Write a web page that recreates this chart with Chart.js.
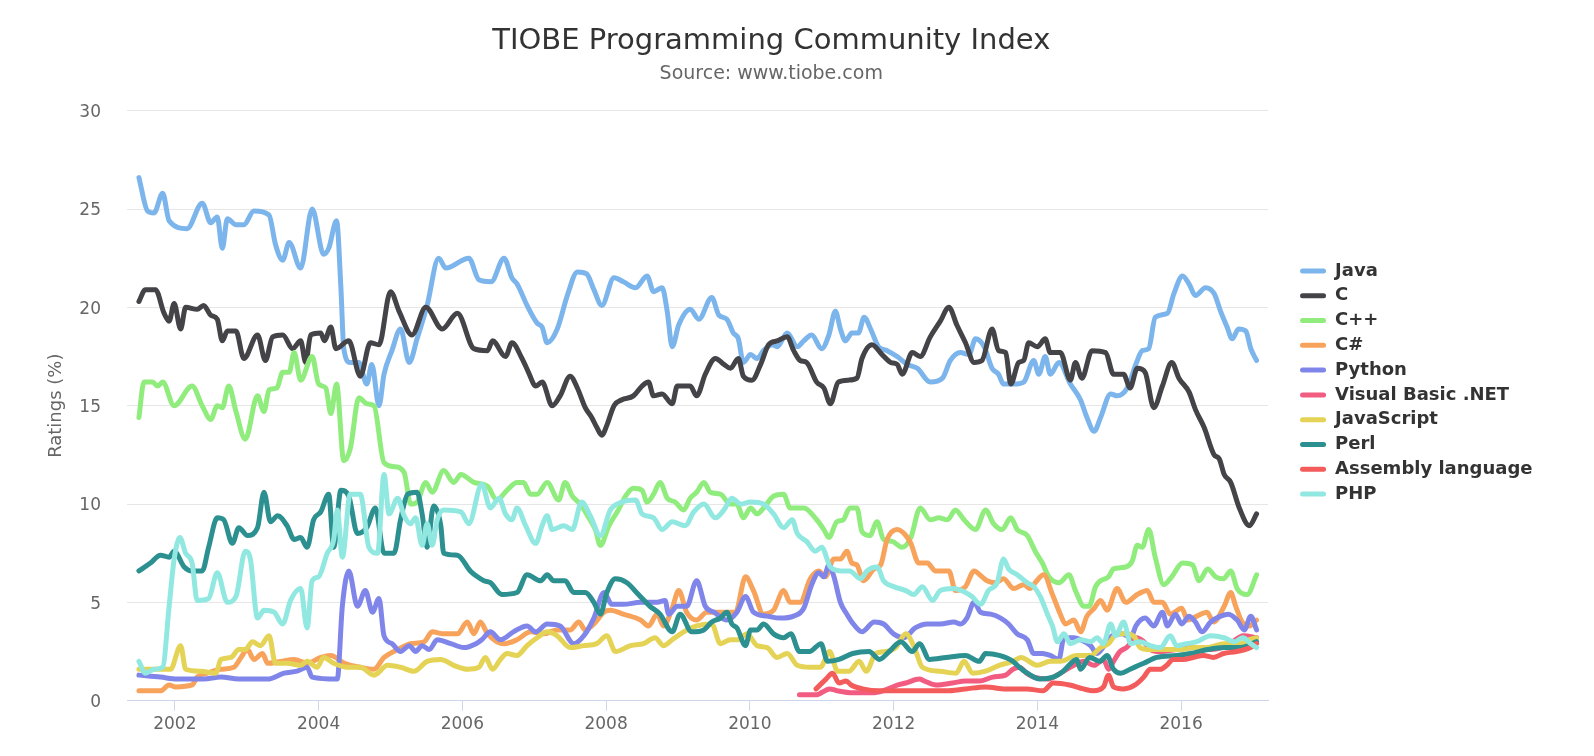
<!DOCTYPE html>
<html>
<head>
<meta charset="utf-8">
<title>TIOBE Programming Community Index</title>
<script src="https://cdn.jsdelivr.net/npm/chart.js@4/dist/chart.umd.min.js"></script>
<style>
  html, body { margin: 0; padding: 0; background: #fff; }
  canvas { display: block; }
</style>
</head>
<body>
<canvas id="chart" width="1594" height="756"></canvas>
<script>
// [year, rating %]
const java = [
  [2001.50, 26.6], [2001.62, 24.9], [2001.71, 24.8], [2001.83, 25.8], [2001.92, 24.4], [2002.17, 24.0],
  [2002.38, 25.3], [2002.50, 24.3], [2002.59, 24.6], [2002.66, 23.0], [2002.73, 24.5], [2002.85, 24.2],
  [2002.96, 24.2], [2003.10, 24.9], [2003.31, 24.7], [2003.40, 23.2], [2003.50, 22.4], [2003.59, 23.3],
  [2003.75, 22.0], [2003.91, 25.0], [2004.07, 22.7], [2004.14, 23.0], [2004.25, 24.4], [2004.31, 21.0],
  [2004.35, 17.9], [2004.44, 17.2], [2004.56, 17.2], [2004.67, 16.1], [2004.74, 17.1], [2004.84, 15.0],
  [2004.91, 16.6], [2005.02, 17.8], [2005.14, 18.9], [2005.26, 17.2], [2005.37, 18.4], [2005.51, 20.1],
  [2005.67, 22.5], [2005.77, 22.0], [2006.09, 22.5], [2006.23, 21.4], [2006.40, 21.3], [2006.58, 22.5],
  [2006.69, 21.5], [2006.76, 21.2], [2006.90, 20.1], [2007.04, 19.2], [2007.11, 19.0], [2007.18, 18.2],
  [2007.32, 18.9], [2007.46, 20.6], [2007.60, 21.8], [2007.73, 21.7], [2007.83, 20.9], [2007.94, 20.1],
  [2008.11, 21.5], [2008.24, 21.3], [2008.41, 21.0], [2008.57, 21.6], [2008.66, 20.8], [2008.78, 21.0],
  [2008.85, 19.8], [2008.92, 18.0], [2009.01, 19.1], [2009.17, 19.9], [2009.29, 19.4], [2009.47, 20.5],
  [2009.57, 19.6], [2009.68, 19.4], [2009.77, 18.7], [2009.84, 18.4], [2009.91, 17.2], [2010.01, 17.6],
  [2010.10, 17.4], [2010.19, 17.8], [2010.31, 18.1], [2010.38, 18.0], [2010.52, 18.7], [2010.66, 18.0],
  [2010.75, 18.3], [2010.86, 18.6], [2011.00, 17.9], [2011.10, 18.6], [2011.19, 19.8], [2011.26, 18.9],
  [2011.33, 18.3], [2011.42, 18.7], [2011.51, 18.7], [2011.59, 19.5], [2011.68, 18.9], [2011.79, 18.0],
  [2011.91, 17.8], [2012.05, 17.5], [2012.19, 17.1], [2012.33, 16.9], [2012.51, 16.2], [2012.68, 16.4],
  [2012.79, 17.3], [2012.93, 17.7], [2013.05, 17.6], [2013.14, 18.4], [2013.26, 18.0], [2013.37, 16.9],
  [2013.46, 16.6], [2013.53, 16.1], [2013.67, 16.1], [2013.81, 16.2], [2013.95, 17.3], [2014.02, 16.6],
  [2014.11, 17.5], [2014.18, 16.6], [2014.30, 17.2], [2014.46, 16.1], [2014.60, 15.3], [2014.69, 14.4],
  [2014.79, 13.7], [2014.88, 14.4], [2015.02, 15.6], [2015.11, 15.5], [2015.25, 15.9], [2015.38, 17.2],
  [2015.46, 17.8], [2015.55, 17.9], [2015.64, 19.5], [2015.81, 19.7], [2015.90, 20.7], [2016.02, 21.6],
  [2016.11, 21.2], [2016.20, 20.6], [2016.34, 21.0], [2016.46, 20.7], [2016.55, 19.8], [2016.64, 19.0],
  [2016.71, 18.4], [2016.80, 18.9], [2016.90, 18.8], [2016.97, 17.9], [2017.05, 17.3]
];
const cLang = [
  [2001.50, 20.3], [2001.59, 20.9], [2001.73, 20.9], [2001.85, 19.7], [2001.92, 19.3], [2001.99, 20.2],
  [2002.08, 18.9], [2002.15, 20.0], [2002.31, 19.9], [2002.40, 20.1], [2002.50, 19.6], [2002.59, 19.4],
  [2002.66, 18.3], [2002.73, 18.8], [2002.85, 18.8], [2002.96, 17.4], [2003.15, 18.6], [2003.26, 17.3],
  [2003.36, 18.5], [2003.50, 18.6], [2003.64, 17.9], [2003.75, 18.3], [2003.82, 17.2], [2003.89, 18.6],
  [2004.03, 18.7], [2004.08, 18.3], [2004.17, 19.0], [2004.24, 17.9], [2004.42, 18.3], [2004.58, 16.5],
  [2004.72, 18.2], [2004.84, 18.1], [2005.00, 20.8], [2005.12, 19.8], [2005.30, 18.6], [2005.49, 20.0],
  [2005.72, 18.9], [2005.93, 19.7], [2006.16, 17.9], [2006.35, 17.8], [2006.42, 18.3], [2006.60, 17.5],
  [2006.69, 18.2], [2006.83, 17.4], [2006.92, 16.7], [2007.02, 16.0], [2007.11, 16.2], [2007.25, 15.0],
  [2007.36, 15.5], [2007.50, 16.5], [2007.60, 15.9], [2007.71, 14.9], [2007.80, 14.4], [2007.87, 13.9],
  [2007.94, 13.5], [2008.01, 14.0], [2008.11, 15.0], [2008.22, 15.3], [2008.38, 15.5], [2008.50, 16.0],
  [2008.59, 16.2], [2008.66, 15.5], [2008.78, 15.6], [2008.92, 15.1], [2008.99, 16.0], [2009.17, 16.0],
  [2009.26, 15.5], [2009.38, 16.6], [2009.52, 17.4], [2009.64, 17.1], [2009.73, 16.9], [2009.84, 17.4],
  [2009.91, 16.5], [2010.03, 16.3], [2010.15, 17.1], [2010.26, 18.1], [2010.38, 18.3], [2010.52, 18.5],
  [2010.61, 17.8], [2010.70, 17.3], [2010.79, 17.2], [2010.93, 16.2], [2011.03, 15.9], [2011.12, 15.1],
  [2011.23, 16.2], [2011.37, 16.3], [2011.49, 16.4], [2011.56, 17.4], [2011.70, 18.1], [2011.84, 17.6],
  [2011.96, 17.2], [2012.05, 17.1], [2012.12, 16.6], [2012.26, 17.7], [2012.37, 17.5], [2012.51, 18.5],
  [2012.65, 19.3], [2012.77, 20.0], [2012.88, 19.1], [2013.00, 18.2], [2013.12, 17.2], [2013.23, 17.3],
  [2013.37, 18.9], [2013.46, 17.8], [2013.56, 17.7], [2013.63, 16.1], [2013.74, 17.2], [2013.81, 17.3],
  [2013.88, 18.2], [2014.00, 18.0], [2014.11, 18.4], [2014.18, 17.7], [2014.32, 17.7], [2014.46, 16.3],
  [2014.53, 17.2], [2014.62, 16.4], [2014.76, 17.8], [2014.95, 17.7], [2015.06, 16.6], [2015.20, 16.6],
  [2015.29, 15.9], [2015.39, 16.9], [2015.50, 16.7], [2015.62, 14.9], [2015.74, 16.0], [2015.87, 17.2],
  [2015.97, 16.4], [2016.11, 15.7], [2016.20, 14.8], [2016.32, 13.9], [2016.46, 12.5], [2016.53, 12.3],
  [2016.60, 11.5], [2016.69, 11.1], [2016.81, 9.8], [2016.95, 8.9], [2017.05, 9.5]
];
const cpp = [
  [2001.50, 14.4], [2001.57, 16.2], [2001.69, 16.2], [2001.76, 16.0], [2001.83, 16.2], [2001.99, 15.0],
  [2002.24, 16.0], [2002.38, 15.0], [2002.50, 14.3], [2002.59, 15.0], [2002.66, 14.9], [2002.75, 16.0],
  [2002.85, 14.7], [2002.98, 13.3], [2003.15, 15.5], [2003.24, 14.7], [2003.31, 15.8], [2003.42, 15.9],
  [2003.50, 16.7], [2003.59, 16.7], [2003.66, 17.7], [2003.75, 16.3], [2003.91, 17.5], [2004.00, 16.1],
  [2004.10, 15.9], [2004.17, 14.6], [2004.25, 16.1], [2004.35, 12.2], [2004.44, 12.8], [2004.56, 15.4],
  [2004.67, 15.1], [2004.77, 15.0], [2004.91, 12.1], [2005.05, 11.9], [2005.19, 11.6], [2005.28, 10.0],
  [2005.37, 10.1], [2005.49, 11.1], [2005.58, 10.6], [2005.74, 11.7], [2005.88, 11.1], [2005.98, 11.5],
  [2006.16, 11.1], [2006.35, 10.9], [2006.48, 10.2], [2006.62, 10.7], [2006.76, 11.1], [2006.85, 11.1],
  [2006.95, 10.5], [2007.04, 10.5], [2007.18, 11.1], [2007.34, 10.2], [2007.43, 11.1], [2007.53, 10.4],
  [2007.64, 10.0], [2007.76, 9.3], [2007.85, 8.7], [2007.92, 7.9], [2008.04, 8.9], [2008.17, 9.7],
  [2008.27, 10.4], [2008.38, 10.8], [2008.50, 10.7], [2008.57, 10.1], [2008.66, 10.5], [2008.75, 11.1],
  [2008.85, 10.3], [2008.96, 10.1], [2009.08, 9.7], [2009.17, 10.3], [2009.26, 10.6], [2009.36, 11.1],
  [2009.45, 10.6], [2009.59, 10.5], [2009.73, 10.0], [2009.82, 10.0], [2009.91, 9.3], [2010.01, 9.8],
  [2010.10, 9.5], [2010.19, 9.8], [2010.33, 10.4], [2010.47, 10.5], [2010.56, 9.8], [2010.75, 9.8],
  [2010.93, 9.2], [2011.03, 8.7], [2011.10, 8.3], [2011.21, 9.1], [2011.30, 9.2], [2011.39, 9.8],
  [2011.49, 9.8], [2011.56, 8.6], [2011.67, 8.4], [2011.77, 9.1], [2011.86, 8.2], [2011.98, 8.1],
  [2012.12, 7.8], [2012.24, 8.3], [2012.37, 9.8], [2012.51, 9.2], [2012.63, 9.3], [2012.75, 9.2],
  [2012.86, 9.7], [2012.98, 9.2], [2013.14, 8.7], [2013.28, 9.7], [2013.39, 9.0], [2013.51, 8.7],
  [2013.63, 9.3], [2013.72, 8.7], [2013.86, 8.4], [2013.97, 7.6], [2014.07, 7.0], [2014.16, 6.3],
  [2014.30, 6.0], [2014.44, 6.4], [2014.53, 5.6], [2014.65, 4.8], [2014.72, 4.8], [2014.81, 5.8],
  [2014.88, 6.1], [2014.99, 6.3], [2015.06, 6.7], [2015.23, 6.8], [2015.32, 7.1], [2015.39, 7.9],
  [2015.46, 7.8], [2015.55, 8.7], [2015.64, 7.3], [2015.76, 5.9], [2015.87, 6.3], [2016.02, 7.0],
  [2016.16, 6.9], [2016.25, 6.1], [2016.37, 6.7], [2016.48, 6.3], [2016.59, 6.2], [2016.69, 6.6],
  [2016.78, 5.7], [2016.92, 5.4], [2017.05, 6.4]
];
const csharp = [
  [2001.50, 0.5], [2001.80, 0.5], [2001.92, 0.8], [2002.01, 0.7], [2002.24, 0.8], [2002.31, 1.2],
  [2002.45, 1.4], [2002.64, 1.6], [2002.82, 1.7], [2002.92, 2.2], [2003.01, 2.6], [2003.10, 2.1],
  [2003.22, 2.4], [2003.29, 1.9], [2003.47, 2.0], [2003.66, 2.1], [2003.84, 1.9], [2004.03, 2.2],
  [2004.17, 2.3], [2004.36, 1.9], [2004.58, 1.7], [2004.77, 1.6], [2004.91, 2.2], [2005.10, 2.6],
  [2005.28, 2.9], [2005.47, 3.0], [2005.58, 3.5], [2005.74, 3.4], [2005.93, 3.4], [2006.07, 4.0],
  [2006.16, 3.4], [2006.25, 4.0], [2006.35, 3.4], [2006.58, 2.9], [2006.76, 3.1], [2006.95, 3.5],
  [2007.13, 3.4], [2007.32, 3.6], [2007.50, 3.6], [2007.62, 4.0], [2007.71, 3.6], [2007.83, 3.9],
  [2007.97, 4.5], [2008.06, 4.6], [2008.24, 4.4], [2008.48, 4.1], [2008.59, 3.8], [2008.71, 4.4],
  [2008.80, 3.8], [2008.92, 4.7], [2009.01, 5.6], [2009.12, 4.5], [2009.26, 4.1], [2009.40, 4.5],
  [2009.80, 4.5], [2009.94, 6.3], [2010.05, 5.6], [2010.19, 4.4], [2010.33, 4.6], [2010.47, 5.6],
  [2010.56, 5.0], [2010.70, 5.0], [2010.84, 6.2], [2010.96, 6.6], [2011.05, 6.3], [2011.17, 7.2],
  [2011.26, 7.2], [2011.35, 7.6], [2011.42, 7.0], [2011.49, 6.9], [2011.58, 6.1], [2011.73, 6.7],
  [2011.82, 6.9], [2011.91, 8.2], [2012.05, 8.7], [2012.17, 8.4], [2012.24, 8.0], [2012.35, 7.0],
  [2012.47, 7.0], [2012.58, 6.6], [2012.77, 6.6], [2012.86, 5.6], [2013.00, 5.8], [2013.12, 6.6],
  [2013.23, 6.3], [2013.30, 6.1], [2013.42, 6.0], [2013.53, 6.2], [2013.67, 5.7], [2013.81, 5.9],
  [2013.90, 5.7], [2013.97, 6.0], [2014.09, 6.4], [2014.21, 5.4], [2014.32, 4.4], [2014.39, 3.9],
  [2014.51, 4.1], [2014.60, 3.5], [2014.69, 4.3], [2014.79, 4.7], [2014.88, 5.1], [2014.97, 4.6],
  [2015.11, 5.7], [2015.23, 5.0], [2015.39, 5.4], [2015.53, 5.6], [2015.62, 5.0], [2015.74, 5.0],
  [2015.85, 4.4], [2016.01, 4.7], [2016.09, 4.1], [2016.22, 4.3], [2016.36, 4.5], [2016.45, 4.0],
  [2016.60, 4.8], [2016.69, 5.5], [2016.76, 4.8], [2016.85, 4.0], [2016.95, 3.8], [2017.05, 4.1]
];
const python = [
  [2001.50, 1.3], [2001.80, 1.2], [2002.03, 1.1], [2002.40, 1.1], [2002.64, 1.2], [2002.89, 1.1],
  [2003.29, 1.1], [2003.52, 1.4], [2003.70, 1.5], [2003.84, 1.7], [2003.91, 1.2], [2004.26, 1.1],
  [2004.33, 4.8], [2004.42, 6.6], [2004.54, 4.8], [2004.65, 5.6], [2004.75, 4.5], [2004.84, 5.2],
  [2004.91, 3.3], [2005.02, 2.9], [2005.14, 2.5], [2005.26, 2.8], [2005.35, 2.5], [2005.44, 2.8],
  [2005.54, 2.6], [2005.65, 3.1], [2005.84, 2.9], [2006.02, 2.7], [2006.19, 2.9], [2006.27, 3.1],
  [2006.39, 3.5], [2006.53, 3.1], [2006.71, 3.5], [2006.90, 3.8], [2007.02, 3.5], [2007.18, 3.9],
  [2007.36, 3.8], [2007.55, 2.9], [2007.69, 3.3], [2007.83, 4.2], [2007.97, 5.5], [2008.08, 4.9],
  [2008.24, 4.9], [2008.48, 5.0], [2008.71, 5.0], [2008.82, 5.1], [2008.87, 4.4], [2008.99, 4.8],
  [2009.12, 4.8], [2009.26, 6.1], [2009.38, 4.8], [2009.50, 4.5], [2009.68, 4.1], [2009.82, 4.5],
  [2009.94, 5.3], [2010.05, 4.5], [2010.24, 4.3], [2010.42, 4.2], [2010.61, 4.3], [2010.75, 4.7],
  [2010.86, 5.9], [2010.96, 6.5], [2011.03, 6.3], [2011.10, 6.9], [2011.17, 6.3], [2011.26, 5.0],
  [2011.35, 4.4], [2011.44, 3.9], [2011.56, 3.5], [2011.73, 4.0], [2011.86, 3.9], [2012.00, 3.4],
  [2012.14, 3.2], [2012.30, 3.7], [2012.47, 3.9], [2012.65, 3.9], [2012.84, 4.0], [2012.93, 3.9],
  [2013.02, 4.2], [2013.12, 5.0], [2013.21, 4.5], [2013.35, 4.4], [2013.49, 4.2], [2013.60, 3.9],
  [2013.72, 3.4], [2013.86, 3.1], [2013.95, 2.4], [2014.07, 2.4], [2014.18, 2.3], [2014.30, 2.1],
  [2014.37, 3.2], [2014.51, 3.2], [2014.60, 3.1], [2014.74, 2.8], [2014.83, 2.4], [2014.95, 2.9],
  [2015.04, 3.3], [2015.18, 3.4], [2015.30, 3.2], [2015.37, 3.8], [2015.50, 4.2], [2015.62, 3.8],
  [2015.74, 4.5], [2015.81, 3.8], [2015.92, 4.4], [2016.01, 3.9], [2016.11, 4.3], [2016.20, 4.0],
  [2016.29, 3.5], [2016.41, 4.0], [2016.55, 4.3], [2016.66, 4.4], [2016.78, 4.1], [2016.88, 3.6],
  [2016.97, 4.3], [2017.05, 3.6]
];
const vbnet = [
  [2010.69, 0.3], [2010.92, 0.3], [2011.11, 0.6], [2011.22, 0.5], [2011.43, 0.4], [2011.71, 0.4],
  [2011.85, 0.5], [2012.06, 0.8], [2012.17, 0.9], [2012.36, 1.1], [2012.43, 1.0], [2012.59, 0.8],
  [2012.82, 0.9], [2013.00, 1.0], [2013.19, 1.0], [2013.38, 1.2], [2013.56, 1.3], [2013.66, 1.6],
  [2013.75, 1.7], [2013.85, 1.4], [2013.95, 1.2], [2014.14, 1.1], [2014.32, 1.4], [2014.51, 1.8],
  [2014.65, 2.0], [2014.79, 1.8], [2014.92, 2.1], [2014.99, 1.6], [2015.06, 2.0], [2015.15, 2.5],
  [2015.24, 2.7], [2015.38, 3.2], [2015.48, 3.0], [2015.57, 2.6], [2015.71, 2.5], [2015.94, 2.6],
  [2016.18, 2.7], [2016.41, 2.6], [2016.64, 2.8], [2016.87, 3.3], [2017.05, 3.2]
];
const javascript = [
  [2001.50, 1.6], [2001.71, 1.6], [2001.94, 1.6], [2002.08, 2.8], [2002.15, 1.6], [2002.36, 1.5],
  [2002.57, 1.4], [2002.64, 2.1], [2002.78, 2.2], [2002.89, 2.6], [2002.98, 2.6], [2003.08, 3.0],
  [2003.19, 2.8], [2003.31, 3.3], [2003.40, 1.9], [2003.56, 1.9], [2003.75, 1.8], [2003.84, 2.0],
  [2003.98, 1.7], [2004.07, 2.2], [2004.21, 1.9], [2004.40, 1.7], [2004.58, 1.7], [2004.77, 1.3],
  [2004.96, 1.8], [2005.14, 1.7], [2005.33, 1.5], [2005.51, 2.0], [2005.70, 2.1], [2005.88, 1.8],
  [2006.07, 1.6], [2006.23, 1.7], [2006.32, 2.2], [2006.42, 1.6], [2006.53, 2.1], [2006.62, 2.4],
  [2006.76, 2.3], [2006.90, 2.8], [2007.04, 3.2], [2007.18, 3.5], [2007.32, 3.3], [2007.50, 2.7],
  [2007.69, 2.8], [2007.87, 2.9], [2008.01, 3.3], [2008.13, 2.5], [2008.34, 2.8], [2008.52, 2.9],
  [2008.68, 3.2], [2008.80, 2.8], [2008.92, 3.1], [2009.08, 3.5], [2009.26, 3.8], [2009.47, 3.9],
  [2009.59, 2.9], [2009.73, 3.1], [2009.84, 3.1], [2009.96, 3.4], [2010.10, 2.8], [2010.24, 2.7],
  [2010.38, 2.2], [2010.52, 2.4], [2010.66, 1.8], [2010.84, 1.7], [2010.98, 1.7], [2011.11, 2.5],
  [2011.22, 1.5], [2011.38, 1.5], [2011.52, 2.0], [2011.62, 1.5], [2011.75, 2.4], [2011.89, 2.5],
  [2012.03, 2.7], [2012.17, 3.4], [2012.29, 2.7], [2012.40, 1.7], [2012.64, 1.5], [2012.87, 1.4],
  [2012.98, 2.0], [2013.10, 1.4], [2013.28, 1.5], [2013.47, 1.8], [2013.66, 2.0], [2013.77, 2.2],
  [2014.00, 1.8], [2014.18, 2.0], [2014.32, 2.0], [2014.55, 2.3], [2014.74, 2.3], [2014.88, 2.7],
  [2014.99, 2.9], [2015.11, 3.4], [2015.25, 3.4], [2015.36, 3.2], [2015.43, 2.7], [2015.57, 2.6],
  [2015.81, 2.6], [2015.99, 2.6], [2016.18, 2.7], [2016.36, 2.7], [2016.60, 2.9], [2016.83, 2.9],
  [2016.94, 3.1], [2017.05, 3.2]
];
const perl = [
  [2001.50, 6.6], [2001.66, 7.0], [2001.80, 7.4], [2001.92, 7.3], [2001.99, 7.6], [2002.13, 6.8],
  [2002.24, 6.6], [2002.38, 6.6], [2002.47, 7.8], [2002.59, 9.3], [2002.68, 9.2], [2002.80, 8.0],
  [2002.89, 8.8], [2003.01, 8.4], [2003.15, 8.8], [2003.24, 10.6], [2003.33, 9.1], [2003.43, 9.4],
  [2003.56, 8.9], [2003.66, 8.2], [2003.75, 8.3], [2003.84, 7.8], [2003.93, 9.2], [2004.03, 9.6],
  [2004.14, 10.5], [2004.21, 7.8], [2004.31, 10.7], [2004.42, 10.4], [2004.54, 8.5], [2004.67, 8.8],
  [2004.79, 9.8], [2004.91, 7.5], [2005.05, 7.5], [2005.14, 9.2], [2005.24, 10.5], [2005.37, 10.6],
  [2005.44, 9.5], [2005.51, 7.8], [2005.60, 9.9], [2005.70, 8.9], [2005.74, 7.5], [2005.93, 7.4],
  [2006.11, 6.6], [2006.21, 6.3], [2006.30, 6.1], [2006.39, 6.0], [2006.55, 5.4], [2006.76, 5.5],
  [2006.90, 6.4], [2007.09, 6.1], [2007.18, 6.4], [2007.27, 6.1], [2007.43, 6.1], [2007.55, 5.5],
  [2007.71, 5.5], [2007.83, 5.0], [2007.92, 4.4], [2008.01, 5.5], [2008.13, 6.2], [2008.29, 6.0],
  [2008.45, 5.4], [2008.61, 4.8], [2008.75, 4.4], [2008.92, 3.5], [2009.03, 4.4], [2009.19, 3.5],
  [2009.36, 3.6], [2009.47, 4.0], [2009.59, 4.2], [2009.68, 4.5], [2009.75, 3.9], [2009.82, 3.7],
  [2009.94, 2.8], [2010.01, 3.6], [2010.10, 3.6], [2010.19, 3.9], [2010.33, 3.4], [2010.47, 3.2],
  [2010.57, 3.4], [2010.69, 2.5], [2010.83, 2.5], [2010.99, 2.9], [2011.08, 2.0], [2011.24, 2.1],
  [2011.43, 2.4], [2011.66, 2.5], [2011.80, 2.1], [2011.94, 2.5], [2012.10, 3.0], [2012.26, 2.5],
  [2012.36, 2.9], [2012.50, 2.1], [2012.73, 2.2], [2013.00, 2.3], [2013.19, 2.0], [2013.28, 2.4],
  [2013.47, 2.3], [2013.66, 2.0], [2013.75, 1.7], [2013.86, 1.4], [2014.04, 1.1], [2014.22, 1.2],
  [2014.36, 1.5], [2014.55, 2.1], [2014.60, 1.6], [2014.73, 2.2], [2014.87, 2.0], [2014.97, 2.3],
  [2015.06, 1.6], [2015.16, 1.4], [2015.29, 1.6], [2015.48, 1.9], [2015.66, 2.2], [2015.94, 2.3],
  [2016.13, 2.4], [2016.37, 2.6], [2016.60, 2.7], [2016.83, 2.7], [2017.05, 3.0]
];
const assembly = [
  [2010.92, 0.6], [2011.06, 1.1], [2011.15, 1.4], [2011.24, 0.9], [2011.34, 1.0], [2011.41, 0.8],
  [2011.57, 0.6], [2011.80, 0.5], [2012.03, 0.5], [2012.26, 0.5], [2012.50, 0.5], [2012.73, 0.5],
  [2013.00, 0.6], [2013.28, 0.7], [2013.56, 0.6], [2013.85, 0.6], [2014.08, 0.5], [2014.22, 0.9],
  [2014.45, 0.8], [2014.64, 0.6], [2014.78, 0.5], [2014.92, 0.7], [2014.99, 1.3], [2015.06, 0.7],
  [2015.20, 0.6], [2015.36, 0.8], [2015.48, 1.2], [2015.57, 1.6], [2015.71, 1.6], [2015.80, 1.8],
  [2015.89, 2.1], [2016.03, 2.1], [2016.17, 2.2], [2016.31, 2.3], [2016.45, 2.2], [2016.59, 2.4],
  [2016.77, 2.5], [2016.96, 2.7], [2017.05, 2.9]
];
const php = [
  [2001.50, 2.0], [2001.59, 1.4], [2001.71, 1.6], [2001.83, 1.7], [2001.92, 4.8], [2001.99, 7.2],
  [2002.07, 8.3], [2002.15, 7.5], [2002.24, 7.0], [2002.31, 5.1], [2002.47, 5.2], [2002.59, 6.5],
  [2002.73, 5.0], [2002.85, 5.3], [2002.98, 7.6], [2003.05, 7.2], [2003.15, 4.2], [2003.24, 4.6],
  [2003.38, 4.5], [2003.50, 3.9], [2003.61, 5.1], [2003.75, 5.7], [2003.84, 3.7], [2003.91, 6.1],
  [2004.00, 6.3], [2004.12, 7.5], [2004.21, 8.2], [2004.26, 9.7], [2004.33, 7.3], [2004.44, 10.5],
  [2004.58, 10.5], [2004.70, 7.8], [2004.82, 7.5], [2004.91, 11.5], [2004.98, 9.5], [2005.10, 10.3],
  [2005.19, 9.4], [2005.28, 9.0], [2005.35, 9.3], [2005.44, 7.9], [2005.51, 9.0], [2005.58, 7.9],
  [2005.65, 9.2], [2005.74, 9.7], [2005.98, 9.6], [2006.09, 9.0], [2006.27, 11.0], [2006.39, 9.8],
  [2006.51, 10.3], [2006.60, 9.5], [2006.69, 9.2], [2006.76, 9.8], [2006.88, 8.9], [2007.02, 8.0],
  [2007.11, 8.9], [2007.18, 9.4], [2007.25, 8.7], [2007.41, 8.9], [2007.53, 8.7], [2007.66, 10.1],
  [2007.78, 9.4], [2007.92, 8.4], [2008.06, 9.7], [2008.22, 10.1], [2008.41, 10.2], [2008.50, 9.5],
  [2008.66, 9.3], [2008.78, 8.7], [2008.92, 9.1], [2009.10, 8.9], [2009.22, 9.6], [2009.36, 10.0],
  [2009.52, 9.3], [2009.64, 9.7], [2009.75, 10.3], [2009.87, 10.0], [2010.01, 10.1], [2010.19, 10.0],
  [2010.33, 9.5], [2010.47, 8.8], [2010.59, 9.2], [2010.66, 8.5], [2010.79, 8.1], [2010.91, 7.6],
  [2011.00, 7.8], [2011.12, 6.8], [2011.26, 6.6], [2011.39, 6.6], [2011.54, 6.2], [2011.63, 6.6],
  [2011.77, 6.8], [2011.86, 6.1], [2012.00, 5.8], [2012.17, 5.6], [2012.28, 5.4], [2012.40, 5.8],
  [2012.54, 5.1], [2012.65, 5.6], [2012.84, 5.7], [2013.00, 5.5], [2013.09, 5.3], [2013.21, 4.9],
  [2013.32, 5.6], [2013.44, 6.0], [2013.53, 7.2], [2013.60, 6.7], [2013.72, 6.4], [2013.86, 6.0],
  [2013.95, 5.8], [2014.04, 5.3], [2014.14, 4.4], [2014.21, 3.8], [2014.28, 3.0], [2014.37, 3.4],
  [2014.46, 2.9], [2014.60, 3.1], [2014.74, 3.0], [2014.83, 3.2], [2014.92, 2.9], [2015.02, 3.9],
  [2015.09, 3.3], [2015.20, 4.0], [2015.30, 2.9], [2015.43, 3.0], [2015.57, 2.8], [2015.71, 2.7],
  [2015.85, 3.3], [2015.94, 2.8], [2016.08, 2.9], [2016.22, 3.0], [2016.41, 3.3], [2016.60, 3.2],
  [2016.74, 3.0], [2016.86, 3.2], [2016.97, 2.9], [2017.05, 2.7]
];

const languages = ['Java', 'C', 'C++', 'C#', 'Python', 'Visual Basic .NET', 'JavaScript', 'Perl', 'Assembly language', 'PHP'];
const seriesData = [java, cLang, cpp, csharp, python, vbnet, javascript, perl, assembly, php];
const colors = ['#7cb5ec', '#434348', '#90ed7d', '#f7a35c', '#8085e9', '#f15c80', '#e4d354', '#2b908f', '#f45b5b', '#91e8e1'];
const yearTicks = [2002, 2004, 2006, 2008, 2010, 2012, 2014, 2016];

const FONT = '"DejaVu Sans", "Lucida Grande", sans-serif';
Chart.defaults.font.family = FONT;
Chart.defaults.color = '#666666';

const datasets = languages.map((name, i) => ({
    label: name,
    data: seriesData[i].map(([x, y]) => ({ x, y })),
    borderColor: colors[i],
    backgroundColor: colors[i],
    borderWidth: 5,
    borderJoinStyle: 'round',
    borderCapStyle: 'round',
    pointRadius: 0,
    pointHoverRadius: 0,
    cubicInterpolationMode: 'monotone',
    fill: false,
    order: languages.length - 1 - i // later series on top, like the original
}));

new Chart(document.getElementById('chart'), {
    type: 'line',
    data: { datasets },
    options: {
        responsive: false,
        animation: false,
        events: [],
        layout: { padding: { top: 9, right: 51.5, bottom: 0, left: 0 } },
        scales: {
            x: {
                type: 'linear',
                min: 2001.334,
                max: 2017.21,
                afterBuildTicks: scale => { scale.ticks = yearTicks.map(v => ({ value: v })); },
                afterFit: scale => { scale.height = 55.3; },
                ticks: {
                    color: '#666666',
                    font: { size: 17 },
                    padding: 4.1,
                    maxRotation: 0,
                    callback: v => String(v)
                },
                grid: { drawOnChartArea: false, drawTicks: true, tickLength: 10, color: '#ccd6eb' },
                border: { color: '#ccd6eb', width: 1 }
            },
            y: {
                min: 0,
                max: 30,
                afterFit: scale => { scale.width = 127; },
                ticks: { stepSize: 5, color: '#666666', font: { size: 17 }, padding: 26, labelOffset: 2 },
                grid: {
                    drawTicks: false,
                    color: c => (c.tick && c.tick.value === 0 ? '#ccd6eb' : '#e6e6e6')
                },
                border: { display: false },
                title: {
                    display: true,
                    text: 'Ratings (%)',
                    color: '#666666',
                    font: { size: 18 },
                    padding: { top: 46, bottom: 0 }
                }
            },
            // empty spacer between plot and legend
            gap: {
                type: 'linear',
                position: 'right',
                display: true,
                afterFit: scale => { scale.width = 25.2; },
                ticks: { display: false },
                grid: { display: false },
                border: { display: false }
            }
        },
        plugins: {
            title: {
                display: true,
                text: 'TIOBE Programming Community Index',
                color: '#333333',
                font: { size: 29, weight: 'normal' },
                padding: { top: 15.1, bottom: 3.9 }
            },
            subtitle: {
                display: true,
                text: 'Source: www.tiobe.com',
                color: '#666666',
                font: { size: 19 },
                padding: { top: 0, bottom: 25.1 }
            },
            legend: {
                position: 'right',
                align: 'center',
                maxWidth: 320,
                labels: {
                    boxWidth: 26,
                    boxHeight: 5,
                    padding: 6.8,
                    color: '#333333',
                    font: { size: 18, weight: 'bold' },
                    sort: (a, b) => a.datasetIndex - b.datasetIndex,
                    generateLabels: chart => Chart.defaults.plugins.legend.labels.generateLabels(chart)
                        .map(item => ({ ...item, lineWidth: 0, borderRadius: 2.5 }))
                }
            },
            tooltip: { enabled: false }
        }
    }
});
</script>
</body>
</html>
